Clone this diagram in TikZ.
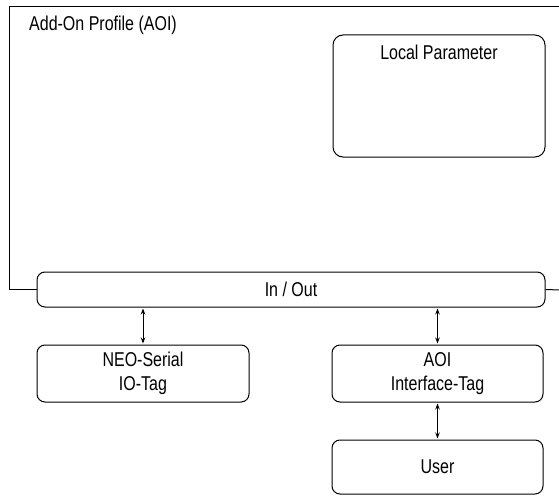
\documentclass[tikz,border=0pt]{standalone}
\usepackage{fontspec}
\setmainfont{Liberation Sans}[FakeStretch=0.8]
\usetikzlibrary{arrows.meta}
\tikzset{
  txt/.style={font=\fontsize{20}{23.5}\selectfont},
  box/.style={draw, line width=1pt, rounded corners=8pt, inner sep=0pt, align=center, txt},
  link/.style={line width=0.9pt, {Stealth[length=6pt,width=4.5pt]}-{Stealth[length=6pt,width=4.5pt]}},
  frame/.style={line width=1pt}
}
\begin{document}
\begin{tikzpicture}[x=1pt,y=-1pt]
\useasboundingbox (0,0) rectangle (559,495);
\node[box, minimum width=212pt, minimum height=122pt, rounded corners=10pt] (local) at (439,96) {};
\node[txt] (localt) at (439,52) {Local Parameter};
\node[box, minimum width=508pt, minimum height=35pt] (io) at (291,289.5) {In / Out};
\node[anchor=west, txt, inner sep=0pt] (title) at (29,25) {Add-On Profile (AOI)};
\coordinate (tr) at (560,7);
\coordinate (tl) at (9,7);
\coordinate (br) at (560,290);
\draw[frame] (tr) -- (tl) -- (tl |- io.west) -- (io.west);
\draw[frame] (io.east) -- (br);
\node[box, minimum width=212pt, minimum height=57pt] (neo) at (143,373.5) {NEO-Serial\\IO-Tag};
\node[box, minimum width=211pt, minimum height=57pt] (aoi) at (437.5,373.5) {AOI\\Interface-Tag};
\node[box, minimum width=211pt, minimum height=54pt] (user) at (437.5,467) {User};
\draw[link, shorten <=1pt, shorten >=1pt] (neo.north) -- (neo.north |- io.south);
\draw[link, shorten <=1pt, shorten >=1pt] (aoi.north) -- (aoi.north |- io.south);
\draw[link, shorten <=1pt, shorten >=1pt] (user.north) -- (aoi.south);
\end{tikzpicture}
\end{document}
